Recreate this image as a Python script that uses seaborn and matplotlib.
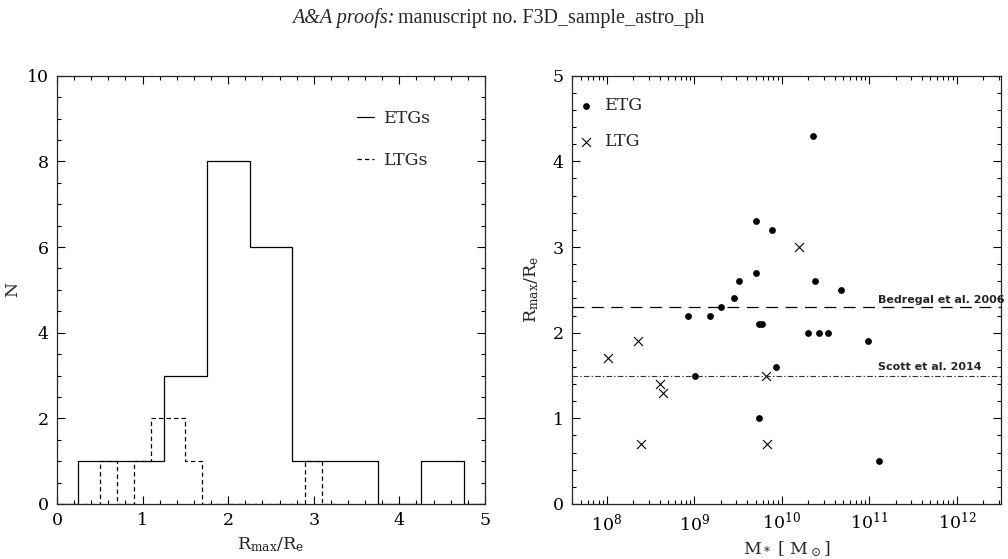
import numpy as np
import pandas as pd
import matplotlib
matplotlib.use("Agg")
import matplotlib.pyplot as plt
from matplotlib.ticker import MultipleLocator, LogLocator, NullFormatter
import seaborn as sns

# ---------------- data ----------------
# Left panel: histogram counts
etg_edges = [-0.25, 0.25, 0.75, 1.25, 1.75, 2.25, 2.75, 3.25, 3.75, 4.25, 4.75, 5.25]
etg_counts = [0, 1, 1, 3, 8, 6, 1, 1, 0, 1, 0]
ltg_edges = [0.3, 0.5, 0.7, 0.9, 1.1, 1.3, 1.5, 1.7, 1.9, 2.1, 2.3, 2.5, 2.7, 2.9, 3.1, 3.3]
ltg_counts = [0, 1, 0, 1, 2, 2, 1, 0, 0, 0, 0, 0, 0, 1, 0]

# Right panel: log10(M*) and Rmax/Re
etg_logm = [10.354, 9.706, 9.883, 9.706, 9.512, 10.384, 10.678, 9.455, 9.306,
            8.921, 9.180, 9.733, 9.771, 10.304, 10.426, 10.529, 10.990, 9.935,
            9.006, 9.737, 11.109]
etg_r = [4.3, 3.3, 3.2, 2.7, 2.6, 2.6, 2.5, 2.4, 2.3,
         2.2, 2.2, 2.1, 2.1, 2.0, 2.0, 2.0, 1.9, 1.6,
         1.5, 1.0, 0.5]
ltg_logm = [8.011, 8.354, 8.606, 8.640, 8.389, 9.813, 9.835, 10.200]
ltg_r = [1.7, 1.9, 1.4, 1.3, 0.7, 1.5, 0.7, 3.0]

bedregal_value = 2.3
scott_value = 1.5
ref_labels = ["Bedregal et al. 2006", "Scott et al. 2014"]

# ---------------- style ----------------
sns.set_style("ticks")
plt.rcParams["font.family"] = ["DejaVu Serif"]
plt.rcParams["mathtext.fontset"] = "dejavuserif"
plt.rcParams["axes.linewidth"] = 0.9
for ax_ in ("xtick", "ytick"):
    plt.rcParams[f"{ax_}.direction"] = "in"
    plt.rcParams[f"{ax_}.major.size"] = 5.5
    plt.rcParams[f"{ax_}.minor.size"] = 3
    plt.rcParams[f"{ax_}.major.width"] = 0.8
    plt.rcParams[f"{ax_}.minor.width"] = 0.8
    plt.rcParams[f"{ax_}.color"] = "black"
    plt.rcParams[f"{ax_}.labelsize"] = 12.5
plt.rcParams["xtick.top"] = True
plt.rcParams["ytick.right"] = True

fig = plt.figure(figsize=(10.08, 5.59), dpi=100)
ax1 = fig.add_axes([0.0565, 0.0984, 0.4246, 0.7662])
ax2 = fig.add_axes([0.5675, 0.0984, 0.4255, 0.7662])

fig.text(0.391, 0.967, "A&A proofs:", ha="right", va="center", fontsize=14.5,
         family="Liberation Serif", style="italic")
fig.text(0.395, 0.967, "manuscript no. F3D_sample_astro_ph", ha="left", va="center",
         fontsize=14.5, family="Liberation Serif")

# ---------------- left: histograms ----------------
etg_centers = [(a + b) / 2 for a, b in zip(etg_edges[:-1], etg_edges[1:])]
ltg_centers = [(a + b) / 2 for a, b in zip(ltg_edges[:-1], ltg_edges[1:])]
sns.histplot(x=etg_centers, weights=etg_counts, bins=etg_edges, element="step",
             fill=False, color="black", linewidth=0.9, ax=ax1, label="ETGs")
sns.histplot(x=ltg_centers, weights=ltg_counts, bins=ltg_edges, element="step",
             fill=False, color="black", linewidth=0.9, linestyle=(0, (3.5, 2.5)),
             ax=ax1, label="LTGs")
ax1.set_xlim(0, 5)
ax1.set_ylim(0, 10)
ax1.xaxis.set_major_locator(MultipleLocator(1))
ax1.xaxis.set_minor_locator(MultipleLocator(0.2))
ax1.yaxis.set_major_locator(MultipleLocator(2))
ax1.yaxis.set_minor_locator(MultipleLocator(0.5))
ax1.set_xlabel(r"$\mathrm{R_{max}/R_e}$", fontsize=12.5, labelpad=4)
ax1.set_ylabel("N", fontsize=12.5, labelpad=4)
ax1.tick_params(axis="both", which="major", pad=6)
ax1.legend(loc="upper left", bbox_to_anchor=(0.70, 0.92), frameon=False,
           fontsize=12.5, handlelength=1.0, handletextpad=0.6, labelspacing=1.45,
           borderaxespad=0, borderpad=0)

# ---------------- right: scatter ----------------
etg_df = pd.DataFrame({"M": [10 ** v for v in etg_logm], "R": etg_r})
ltg_df = pd.DataFrame({"M": [10 ** v for v in ltg_logm], "R": ltg_r})
sns.scatterplot(data=etg_df, x="M", y="R", marker="o", s=24, color="black",
                edgecolor="black", linewidth=0, ax=ax2, label="ETG")
sns.scatterplot(data=ltg_df, x="M", y="R", marker="x", s=42, color="black",
                linewidth=0.8, ax=ax2, label="LTG")
ax2.set_xscale("log")
ax2.set_xlim(10 ** 7.6, 10 ** 12.505)
ax2.set_ylim(0, 5)
ax2.axhline(bedregal_value, color="black", linewidth=0.9, linestyle=(0, (9.5, 6)))
ax2.axhline(scott_value, color="#333333", linewidth=0.8,
            linestyle=(0, (5, 2, 1.2, 2)))
ax2.text(10 ** 11.104, bedregal_value + 0.05, ref_labels[0], fontsize=8,
         family="DejaVu Sans", weight="bold", va="baseline", ha="left", clip_on=False)
ax2.text(10 ** 11.104, scott_value + 0.065, ref_labels[1], fontsize=8,
         family="DejaVu Sans", weight="bold", va="baseline", ha="left", clip_on=False)
ax2.xaxis.set_major_locator(LogLocator(base=10, numticks=20))
ax2.xaxis.set_minor_locator(LogLocator(base=10, subs=np.arange(2, 10), numticks=20))
ax2.xaxis.set_minor_formatter(NullFormatter())
ax2.yaxis.set_major_locator(MultipleLocator(1))
ax2.yaxis.set_minor_locator(MultipleLocator(0.2))
ax2.tick_params(axis="both", which="major", pad=6)
ax2.set_xlabel(r"M$_*$ [ M$_\odot$]", fontsize=12.5, labelpad=4)
ax2.set_ylabel(r"$\mathrm{R_{max}/R_e}$", fontsize=12.5, labelpad=8)
ax2.legend(loc="upper left", bbox_to_anchor=(0.012, 0.95), frameon=False,
           fontsize=12.5, handlelength=1.0, handletextpad=0.6, labelspacing=1.1,
           borderaxespad=0, borderpad=0)

fig.savefig("out.png", dpi=100)
